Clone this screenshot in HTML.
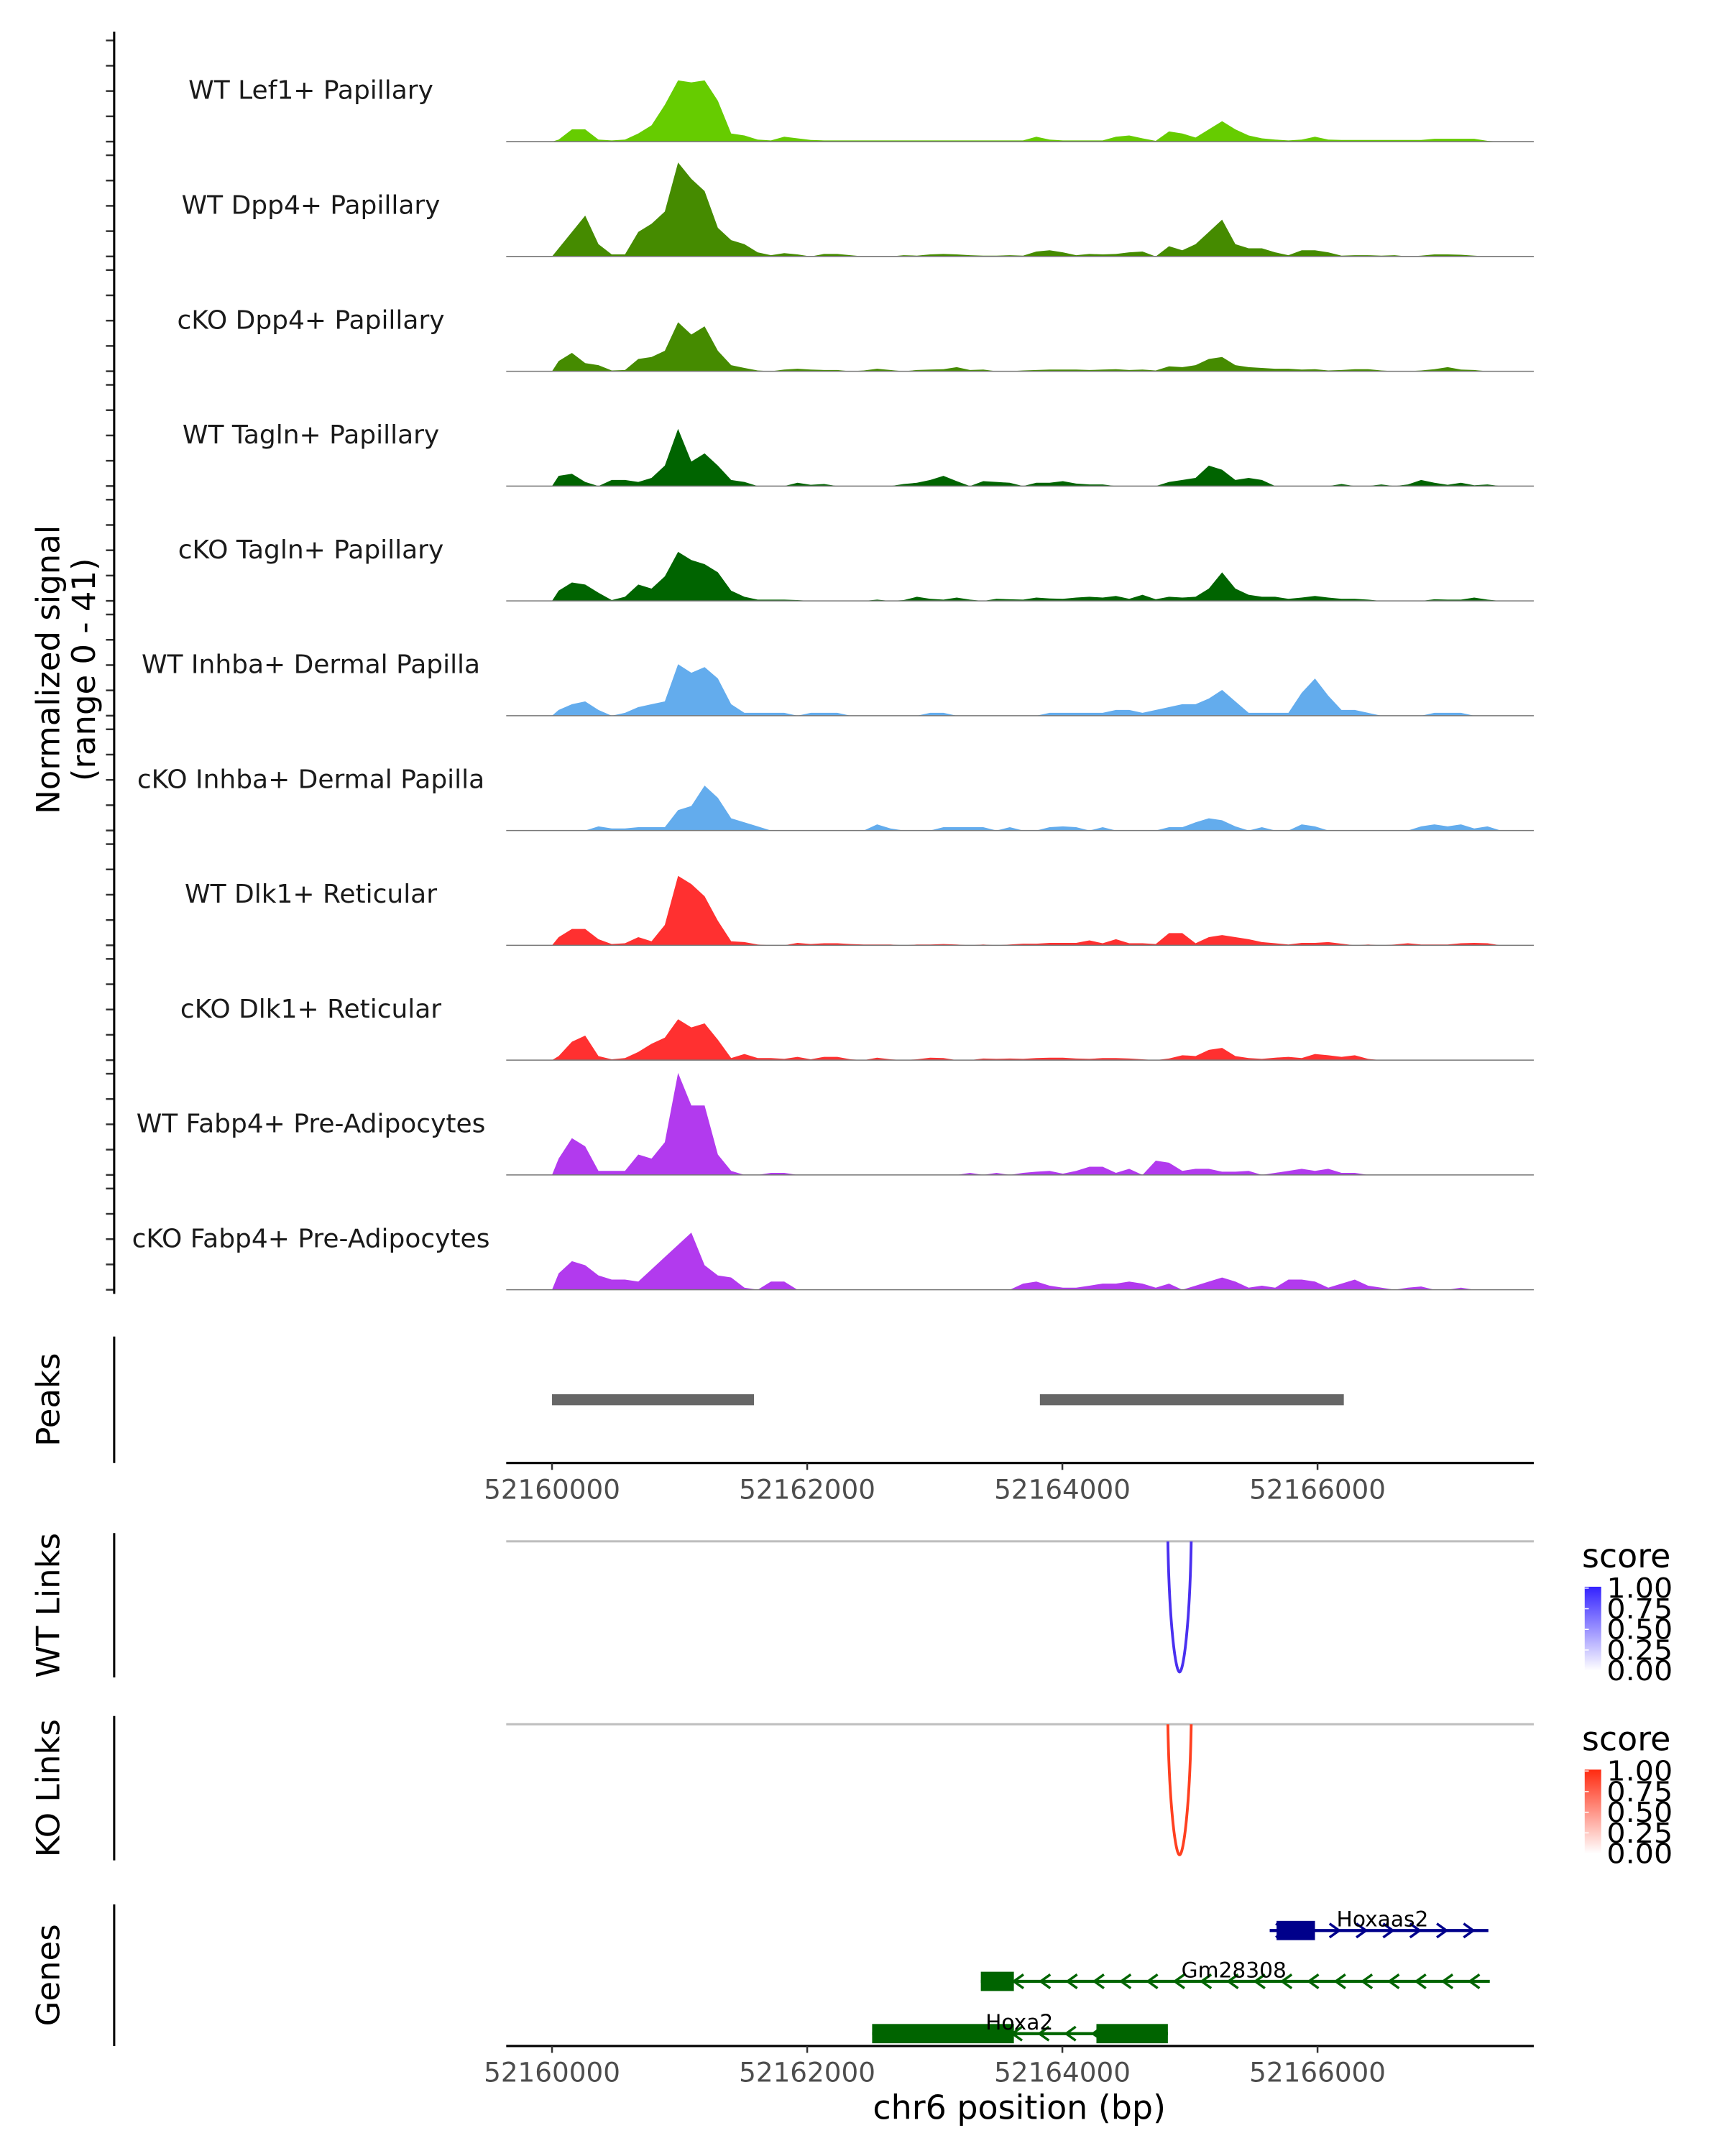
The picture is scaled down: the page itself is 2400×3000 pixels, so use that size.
<!DOCTYPE html>
<html><head><meta charset="utf-8">
<style>
html,body{margin:0;padding:0;background:#fff;}
svg{display:block;font-family:"DejaVu Sans","Liberation Sans",sans-serif;}
</style></head>
<body>
<svg id="chart" xmlns="http://www.w3.org/2000/svg" width="2400" height="3000" viewBox="0 0 1254 1568" preserveAspectRatio="none">
<defs>
<linearGradient id="gBlue" x1="0" y1="1" x2="0" y2="0"><stop offset="0" stop-color="#ffffff"/><stop offset="1" stop-color="#3322ff"/></linearGradient>
<linearGradient id="gRed" x1="0" y1="1" x2="0" y2="0"><stop offset="0" stop-color="#ffffff"/><stop offset="1" stop-color="#ff2a10"/></linearGradient>
</defs>
<g id="root"></g>
</svg>
<script>
// ---- data ----
const binStart = 52160000;
const binSize = 104;
const trackNames = ["WT Lef1+ Papillary","WT Dpp4+ Papillary","cKO Dpp4+ Papillary","WT Tagln+ Papillary","cKO Tagln+ Papillary","WT Inhba+ Dermal Papilla","cKO Inhba+ Dermal Papilla","WT Dlk1+ Reticular","cKO Dlk1+ Reticular","WT Fabp4+ Pre-Adipocytes","cKO Fabp4+ Pre-Adipocytes"];
const trackColors = ["#66cc00","#458b00","#458b00","#006400","#006400","#63aced","#63aced","#ff3030","#ff3030","#b23aee","#b23aee"];
// signal values (arbitrary units; 286 units = range max 41)
const sigLef1WT = [5,30,30,5,3,5,20,40,90,150, 145,150,100,20,15,5,3,12,8,4, 3,3,3,3,3,3,3,3,3,3, 3,3,3,3,3,3,12,5,3,3, 3,3,12,15,8,2,25,20,10,30, 50,30,15,8,5,3,5,12,5,4, 4,4,4,4,4,4,7,7,7,7, 2,0,0];
const sigDpp4WT = [20,60,100,30,5,5,60,80,110,230, 190,160,70,40,30,10,3,8,5,0, 6,6,3,0,0,0,3,2,5,6, 5,3,2,2,3,2,12,15,10,3, 6,5,6,10,12,0,25,15,30,60, 90,30,20,20,10,3,15,15,10,2, 3,3,2,3,0,2,5,5,4,2, 0,0,0];
const sigDpp4KO = [25,45,20,15,2,3,30,35,50,120, 90,110,50,15,8,2,0,4,6,4, 3,3,0,2,6,3,0,3,4,5, 10,3,4,0,0,2,3,4,4,4, 3,4,5,3,4,2,12,10,15,30, 35,15,10,8,6,6,4,5,2,3, 5,5,2,0,0,2,5,10,4,3, 0,0,0];
const sigTaglnWT = [25,30,10,0,15,15,10,20,50,140, 60,80,50,15,10,0,0,0,8,3, 5,0,0,0,0,0,5,8,15,25, 12,0,12,10,8,0,8,8,12,6, 4,4,0,0,0,0,10,15,20,50, 40,15,20,15,0,0,0,0,0,5, 0,0,4,0,4,15,8,3,8,2, 4,0,0];
const sigTaglnKO = [25,45,40,20,2,10,40,30,60,120, 100,90,70,25,10,3,3,3,2,0, 0,0,0,0,3,0,2,10,5,3, 8,3,0,5,4,3,8,6,5,8, 10,8,12,5,15,4,10,8,10,30, 70,30,15,10,10,5,8,12,8,5, 5,3,0,0,0,0,4,3,3,8, 3,0,0];
const sigInhbaWT = [14,28,35,14,0,7,21,28,35,126, 105,119,91,28,7,7,7,7,0,7, 7,7,0,0,0,0,0,0,7,7, 0,0,0,0,0,0,0,7,7,7, 7,7,14,14,7,14,21,28,28,42, 63,35,7,7,7,7,56,91,49,14, 14,7,0,0,0,0,7,7,7,0, 0,0,0];
const sigInhbaKO = [0,0,0,10,5,5,8,8,8,50, 60,110,80,30,20,10,0,0,0,0, 0,0,0,0,15,5,0,0,0,8, 8,8,8,0,8,0,0,8,10,8, 0,8,0,0,0,0,8,8,20,30, 25,10,0,8,0,0,15,10,0,0, 0,0,0,0,0,10,15,10,15,5, 10,0,0];
const sigDlk1WT = [20,40,40,15,3,5,20,10,50,170, 150,120,60,10,8,2,0,0,6,3, 5,5,3,2,2,2,0,2,2,3, 2,0,2,0,2,4,4,6,6,6, 12,5,15,5,5,3,30,30,5,20, 25,20,15,8,5,2,6,6,8,4, 0,2,0,2,5,2,2,2,5,6, 5,0,0];
const sigDlk1KO = [10,45,60,10,2,5,20,40,55,100, 80,90,50,5,15,5,5,3,8,2, 8,8,2,0,6,2,0,2,6,5, 0,0,4,3,4,3,5,6,6,4, 3,5,5,4,2,0,4,12,10,25, 30,10,5,3,6,8,5,15,12,8, 12,3,0,0,0,1,1,0,1,1, 1,0,0];
const sigFabp4WT = [40,90,70,10,10,10,50,40,80,250, 170,170,50,10,0,0,5,5,0,0, 0,0,0,0,0,0,0,0,0,0, 0,5,0,5,0,5,8,10,3,10, 20,20,5,15,0,35,30,10,15,15, 8,8,10,0,5,10,15,10,15,5, 5,0,0,0,0,0,0,0,0,0, 0,0,0];
const sigFabp4KO = [40,70,60,35,25,25,20,50,80,110, 140,60,35,30,5,0,20,20,0,0, 0,0,0,0,0,0,0,0,0,0, 0,0,0,0,0,15,20,10,5,5, 10,15,15,20,15,5,15,0,10,20, 30,20,5,10,5,25,25,20,5,15, 25,10,5,0,5,8,0,0,5,0, 0,0,0];
const trackSignals = [sigLef1WT,sigDpp4WT,sigDpp4KO,sigTaglnWT,sigTaglnKO,sigInhbaWT,sigInhbaKO,sigDlk1WT,sigDlk1KO,sigFabp4WT,sigFabp4KO];
const axisTicks = [52160000,52162000,52164000,52166000];
const axisTickLabels = ["52160000","52162000","52164000","52166000"];
const peakStarts = [52160000,52163824];
const peakEnds = [52161583,52166206];
const linkStart = [52164827];
const linkEnd = [52165010];
const legendLabels = ["1.00","0.75","0.50","0.25","0.00"];
const geneNames = ["Hoxaas2","Gm28308","Hoxa2"];
const geneStarts = [52165625,52163361,52162509];
const geneEnds = [52167339,52167350,52164827];
const geneStrand = ["+","-","-"];
const geneColors = ["#00008b","#006400","#006400"];
const exonStarts = [[52165679],[52163361],[52162509,52164267]];
const exonEnds = [[52165980],[52163620],[52163620,52164827]];

// ---- scales ----
const X0 = 368, X1 = 1115, BP0 = 52159641, BP1 = 52167695;
function xs(bp){ return X0 + (bp-BP0)/(BP1-BP0)*(X1-X0); }
const baseY0 = 103, trackStep = 83.5, unitPx = 0.297;
function ys(i, v){ return baseY0 + i*trackStep - v*unitPx; }

const NS = "http://www.w3.org/2000/svg";
const root = document.getElementById('root');
function mk(tag, attrs, parent){
  const e = document.createElementNS(NS, tag);
  for (const k in attrs) e.setAttribute(k, attrs[k]);
  (parent||root).appendChild(e);
  return e;
}

// signal tracks
trackSignals.forEach((arr, i) => {
  const g = mk('g', {});
  
  
  const base = ys(i, 0);
  let d = 'M' + xs(binStart).toFixed(2) + ',' + base;
  arr.forEach((v, k) => {
    d += ' L' + xs(binStart + (k+0.5)*binSize).toFixed(2) + ',' + ys(i, v).toFixed(2);
  });
  d += ' L' + xs(binStart + arr.length*binSize).toFixed(2) + ',' + base + ' Z';
  const p = mk('path', {d: d, fill: trackColors[i]}, g);
  
  
  const bl = mk('line', {x1: X0, x2: X1, y1: base, y2: base, stroke: '#777', 'stroke-width': 0.8}, g);
  
  
  const t = mk('text', {x: 226, y: base - 31, 'font-size': 18.8, 'text-anchor': 'middle', fill: '#1a1a1a'}, g);
  
  
  t.textContent = trackNames[i];
  for (let s = 0; s <= 40; s += 10) {
    const ty = base - s*1.84;
    const tk = mk('line', {x1: 77, x2: 83, y1: ty, y2: ty, stroke: '#333', 'stroke-width': 1.3}, g);
    
    
  }
});
const yAxis = mk('line', {x1: 83, x2: 83, y1: 23, y2: 941, stroke: '#000', 'stroke-width': 1.6});


const yt = mk('text', {transform: 'translate(43,487) rotate(-90)', 'font-size': 23.5, 'text-anchor': 'middle', fill: '#000'});


yt.textContent = 'Normalized signal';
const yt2 = mk('text', {transform: 'translate(69,487) rotate(-90)', 'font-size': 23.5, 'text-anchor': 'middle', fill: '#000'});


yt2.textContent = '(range 0 - 41)';

function panelTitle(name, y1, y2, label){
  const l = mk('line', {x1: 83, x2: 83, y1: y1, y2: y2, stroke: '#000', 'stroke-width': 1.6});
  
  
  const t = mk('text', {transform: 'translate(43,' + ((y1+y2)/2) + ') rotate(-90)', 'font-size': 23.5, 'text-anchor': 'middle', fill: '#000'});
  
  
  t.textContent = label;
}
function xAxis(name, y){
  const l = mk('line', {x1: X0, x2: X1, y1: y, y2: y, stroke: '#000', 'stroke-width': 1.6});
  
  
  axisTicks.forEach((bp, i) => {
    const tk = mk('line', {x1: xs(bp), x2: xs(bp), y1: y, y2: y + 5, stroke: '#333', 'stroke-width': 1.3});
    
    
    const t = mk('text', {x: xs(bp), y: y + 26, 'font-size': 19.5, 'text-anchor': 'middle', fill: '#4d4d4d'});
    
    
    t.textContent = axisTickLabels[i];
  });
}

// Peaks
panelTitle('peaks', 972, 1064, 'Peaks');
peakStarts.forEach((s, i) => {
  const r = mk('rect', {x: xs(s), y: 1014, width: xs(peakEnds[i]) - xs(s), height: 8, fill: '#666666'});
  
  
});
xAxis('peaks-x-axis', 1064);

// Links
function linkPanel(name, top, label, color, grad){
  panelTitle(name, top - 5, top + 100, label);
  const gl = mk('line', {x1: X0, x2: X1, y1: top + 1, y2: top + 1, stroke: '#bebebe', 'stroke-width': 1.6});
  
  
  linkStart.forEach((s, i) => {
    const a = xs(s), b = xs(linkEnd[i]), m = (a+b)/2;
    const p = mk('path', {d: 'M' + a + ',' + (top+1) + ' C' + (a+1) + ',' + (top+60) + ' ' + (m-3) + ',' + (top+96) + ' ' + m + ',' + (top+96) + ' C' + (m+3) + ',' + (top+96) + ' ' + (b-1) + ',' + (top+60) + ' ' + b + ',' + (top+1), fill: 'none', stroke: color, 'stroke-width': 2});
    
    
  });
  const lt = mk('text', {x: 1150, y: top + 20, 'font-size': 24, fill: '#000'});
  
  
  lt.textContent = 'score';
  const bar = mk('rect', {x: 1152, y: top + 34, width: 12, height: 61, fill: 'url(#' + grad + ')'});
  
  
  legendLabels.forEach((lab, i) => {
    const ly = top + 35 + i*15;
    const tk = mk('line', {x1: 1152, x2: 1155, y1: ly, y2: ly, stroke: '#fff', 'stroke-width': 0.8});
    
    
    const t = mk('text', {x: 1168, y: ly + 7, 'font-size': 20, fill: '#000', textLength: 48, lengthAdjust: 'spacingAndGlyphs'});
    
    
    t.textContent = lab;
  });
}
linkPanel('wt-links', 1120, 'WT Links', '#4a30f0', 'gBlue');
linkPanel('ko-links', 1253, 'KO Links', '#ff4020', 'gRed');

// Genes
panelTitle('genes', 1385, 1488, 'Genes');
const geneY = [1404, 1441, 1479];
geneNames.forEach((n, i) => {
  const g = mk('g', {});
  
  
  const y = geneY[i], c = geneColors[i];
  const a = xs(geneStarts[i]), b = xs(geneEnds[i]);
  mk('line', {x1: a, x2: b, y1: y, y2: y, stroke: c, 'stroke-width': 2.2}, g);
  for (let x = a + 8; x <= b; x += 19.5) {
    const dx = geneStrand[i] === '+' ? 3.5 : -3.5;
    mk('path', {d: 'M' + (x-dx) + ',' + (y-5) + ' L' + (x+dx) + ',' + y + ' L' + (x-dx) + ',' + (y+5), fill: 'none', stroke: c, 'stroke-width': 1.8}, g);
  }
  exonStarts[i].forEach((s, j) => {
    const r = mk('rect', {x: xs(s), y: y - 7, width: xs(exonEnds[i][j]) - xs(s), height: 14, fill: c}, g);
    
    
  });
  const lx = [1005, 897, 741][i];
  const t = mk('text', {x: lx, y: y - 3, 'font-size': 15.5, 'text-anchor': 'middle', fill: '#000'}, g);
  
  
  t.textContent = n;
});
xAxis('genes-x-axis', 1488);
const xt = mk('text', {x: 741, y: 1541, 'font-size': 24, 'text-anchor': 'middle', fill: '#000'});


xt.textContent = 'chr6 position (bp)';
</script>
</body></html>
